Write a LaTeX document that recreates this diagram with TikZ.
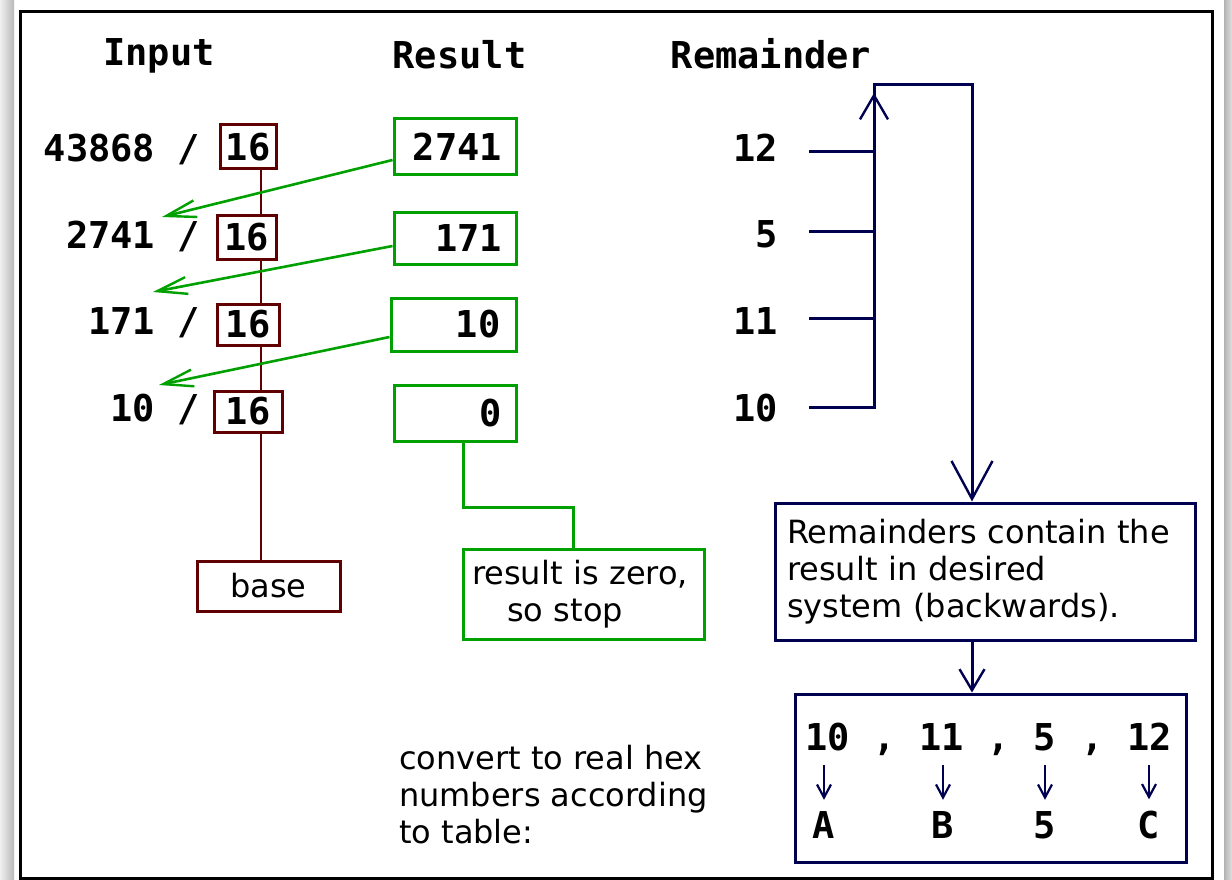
\documentclass[tikz,border=0pt]{standalone}
\usepackage{fontspec}
\setmainfont{DejaVu Sans}
\newfontfamily\monofam{DejaVu Sans Mono}
\usetikzlibrary{arrows.meta}
\definecolor{brn}{HTML}{600000}
\definecolor{grn}{HTML}{00A000}
\definecolor{nvy}{HTML}{000050}
\begin{document}
\begin{tikzpicture}[x=1pt,y=-1pt,
  hd/.style={font=\monofam\bfseries\fontsize{37}{40}\selectfont, inner sep=0pt},
  txt/.style={font=\fontsize{32}{37}\selectfont},
  bbox/.style={draw=brn, line width=3pt, fill=white, inner sep=0pt, font=\monofam\bfseries\fontsize{37}{40}\selectfont},
  gbox/.style={draw=grn, line width=3pt, inner sep=0pt},
  rbox/.style={gbox, text width=94pt, align=right, font=\monofam\bfseries\fontsize{37}{40}\selectfont},
  nbox/.style={draw=nvy, line width=3pt, inner sep=0pt},
  garr/.style={grn, line width=2.6pt, -{Straight Barb[length=30pt,width=17pt,line width=2.4pt]}},
  nline/.style={nvy, line width=3pt},
  harr/.style={nvy, line width=2.2pt, -{Straight Barb[length=13pt,width=14pt,line width=2.2pt]}}
]
\useasboundingbox (0,0) rectangle (1232,880);
% shadows
\shade[left color=white!94!black, right color=black!28] (0,0) rectangle (14,880);
\shade[left color=black!30, right color=white!88!black] (1224,0) rectangle (1232,880);
% frame
\draw[line width=3pt] (20,12) rectangle (1212,878);

% headings
\node[hd, anchor=base] (hin) at (159,66) {Input};
\node[hd, anchor=base] (hres) at (459.5,69) {Result};
\node[hd, anchor=base] (hrem) at (771,69) {Remainder};

% input column
\node[hd, anchor=base east] (in1) at (200,162) {43868 /};
\node[hd, anchor=base east] (in2) at (200,248) {2741 /};
\node[hd, anchor=base east] (in3) at (200,334) {171 /};
\node[hd, anchor=base east] (in4) at (200,421) {10 /};

\coordinate (lx) at (261,0);
\node[bbox, minimum width=56pt, minimum height=44pt] (d1) at (248,147) {16};
\node[bbox, minimum width=59pt, minimum height=44pt] (d2) at (246.5,237) {16};
\node[bbox, minimum width=62pt, minimum height=41pt] (d3) at (248,324.5) {16};
\node[bbox, minimum width=68pt, minimum height=41pt] (d4) at (248,411.5) {16};
\node[bbox, minimum width=143pt, minimum height=50pt, font=\fontsize{32}{37}\selectfont] (base) at (268.5,586) {base};

\draw[brn, line width=2.6pt] (d1.south -| lx) -- (d2.north -| lx);
\draw[brn, line width=2.6pt] (d2.south -| lx) -- (d3.north -| lx);
\draw[brn, line width=2.6pt] (d3.south -| lx) -- (d4.north -| lx);
\draw[brn, line width=2.6pt] (d4.south -| lx) -- (base.north -| lx);

% result column
\node[rbox, minimum width=122pt, minimum height=56pt] (r1) at (455,147) {2741};
\node[rbox, minimum width=122pt, minimum height=52pt] (r2) at (455,238) {171};
\node[rbox, minimum width=125pt, minimum height=53pt] (r3) at (453.5,324.5) {10};
\node[rbox, minimum width=122pt, minimum height=56pt] (r4) at (455,413) {0};

\coordinate (g1) at (162,217);
\coordinate (g2) at (153,292);
\coordinate (g3) at (159,385);
\draw[garr] ([yshift=-13pt]r1.west) -- (g1);
\draw[garr] ([yshift=-8pt]r2.west) -- (g2);
\draw[garr] ([yshift=-12.5pt]r3.west) -- (g3);

\node[gbox, minimum width=241pt, minimum height=90pt, text width=223pt, align=left, txt] (stop) at (583.5,594) {result is zero,\\\hspace*{35pt}so stop};
\coordinate (gc1) at (463,507);
\coordinate (gc2) at (573,507);
\draw[grn, line width=3pt] (r4.south -| gc1) -- (gc1) -- (gc2) -- (gc2 |- stop.north);

% remainder column
\node[hd, anchor=base east] (m1) at (778,162) {12};
\node[hd, anchor=base east] (m2) at (778,247) {5};
\node[hd, anchor=base east] (m3) at (778,334) {11};
\node[hd, anchor=base east] (m4) at (778,421) {10};

\coordinate (rx) at (809,0);
\coordinate (bx) at (874,0);
\coordinate (tl) at (874,85);
\coordinate (tr) at (972,85);

\node[nbox, minimum width=420pt, minimum height=137pt, text width=396pt, align=left, txt] (rb) at (985,571.5) {Remainders contain the\\result in desired\\system (backwards).};
\node[nbox, minimum width=391pt, minimum height=168pt] (hb) at (990.5,778) {};

\draw[nline] ([yshift=-3pt]m1.east -| rx) -- ([yshift=-3pt]m1.east -| bx);
\draw[nline] ([yshift=2pt]m2.east -| rx) -- ([yshift=2pt]m2.east -| bx);
\draw[nline] ([yshift=2pt]m3.east -| rx) -- ([yshift=2pt]m3.east -| bx);
\draw[nline, -{Straight Barb[length=38pt,width=41pt,line width=2.4pt]}] (m4.east -| rx) -- (m4.east -| bx) -- (tl) -- (tr) -- (tr |- rb.north);
\draw[nline, -{Straight Barb[length=24pt,width=28pt,line width=2.4pt]}] (874,130) -- (874,93);
\draw[nline, -{Straight Barb[length=21pt,width=25pt,line width=2.4pt]}] (tr |- rb.south) -- (tr |- hb.north);

% convert text
\node[txt, anchor=north west, align=left, inner sep=0pt] (conv) at (399,745) {convert to real hex\\numbers according\\to table:};

% hex values
\node[hd, anchor=base] (n1) at (827.5,750) {10};
\node[hd, anchor=base] (c1) at (885,750) {,};
\node[hd, anchor=base] (n2) at (941.5,750) {11};
\node[hd, anchor=base] (c2) at (999,750) {,};
\node[hd, anchor=base] (n3) at (1045,750) {5};
\node[hd, anchor=base] (c3) at (1093,750) {,};
\node[hd, anchor=base] (n4) at (1149.5,750) {12};

\node[hd, anchor=base] (h1) at (824,838) {A};
\node[hd, anchor=base] (h2) at (943,838) {B};
\node[hd, anchor=base] (h3) at (1045,838) {5};
\node[hd, anchor=base] (h4) at (1149,838) {C};

\draw[harr] ([yshift=-15pt]n1.base -| h1) -- ([yshift=11pt]h1.north);
\draw[harr] ([yshift=-15pt]n2.base -| h2) -- ([yshift=11pt]h2.north);
\draw[harr] ([yshift=-15pt]n3.base -| h3) -- ([yshift=11pt]h3.north);
\draw[harr] ([yshift=-15pt]n4.base -| h4) -- ([yshift=11pt]h4.north);
\end{tikzpicture}
\end{document}
